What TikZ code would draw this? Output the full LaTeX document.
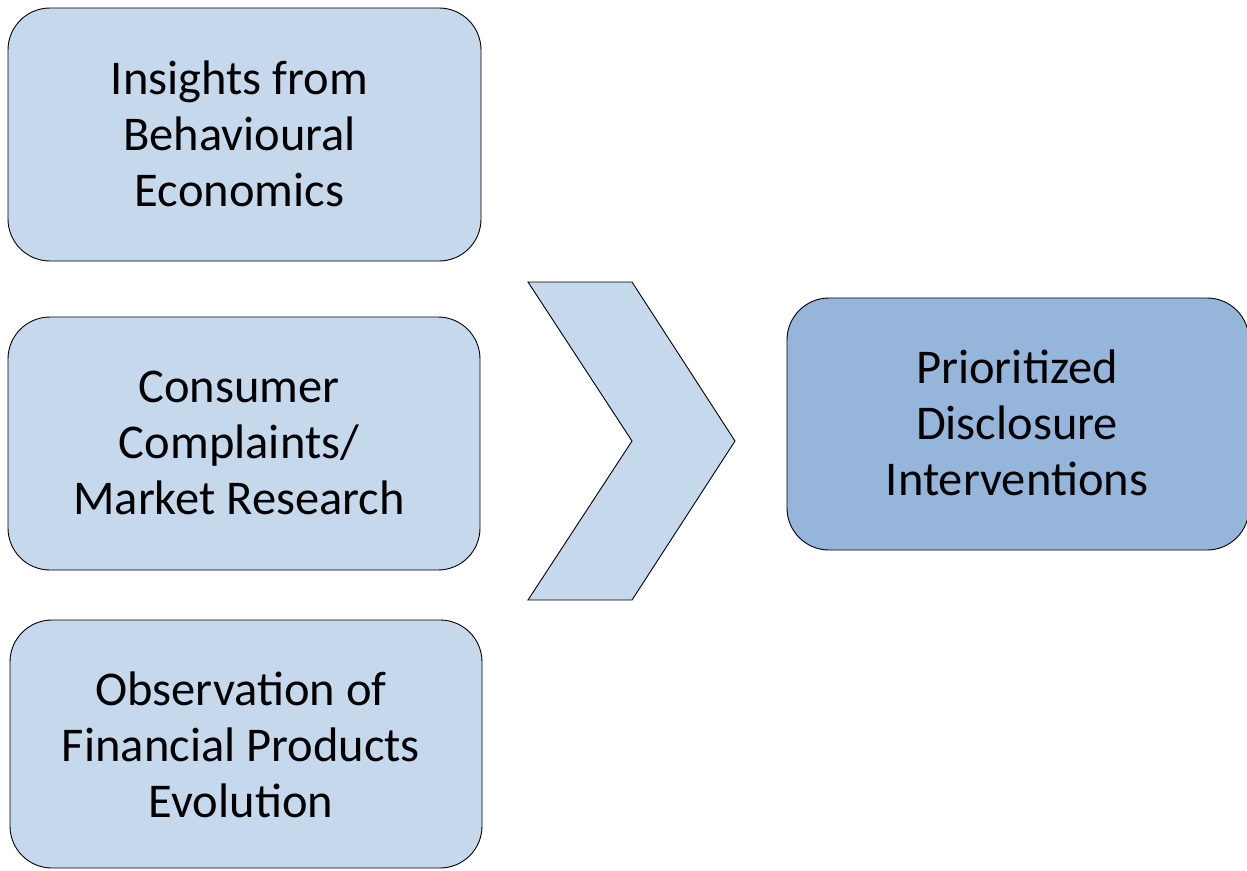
\documentclass[tikz,border=0pt]{standalone}
\usepackage{fontspec}
\setmainfont{Carlito}
\definecolor{lightblue}{HTML}{C5D8EC}
\definecolor{midblue}{HTML}{95B5DB}
\begin{document}
\begin{tikzpicture}[x=1pt,y=-1pt,
  box/.style={draw=black, line width=0.9pt, fill=lightblue, rounded corners=42pt, inner sep=0pt},
  outbox/.style={box, fill=midblue},
  label text/.style={align=center, inner sep=0pt, font=\fontsize{48.5}{56}\selectfont}]
\useasboundingbox (0,0) rectangle (1247,870);
\node[box, minimum width=473pt, minimum height=253pt] (b1) at (244.5,134.5) {};
\node[label text] (t1) at ([xshift=-5pt,yshift=1pt]b1.center) {Insights from\\Behavioural\\Economics};
\node[box, minimum width=472pt, minimum height=253pt] (b2) at (244,443.5) {};
\node[label text] (t2) at ([xshift=-5pt,yshift=1pt]b2.center) {Consumer\\Complaints/\\Market Research};
\node[box, minimum width=472pt, minimum height=248pt] (b3) at (246,744) {};
\node[label text] (t3) at ([xshift=-5pt,yshift=-1pt]b3.center) {Observation of\\Financial Products\\Evolution};
\node[outbox, minimum width=462pt, minimum height=252pt] (out) at (1018,424) {};
\node[label text] (t4) at ([xshift=-1pt,yshift=1pt]out.center) {Prioritized\\Disclosure\\Interventions};
\coordinate (c1) at (528,282);
\coordinate (c2) at (632,282);
\coordinate (c3) at (735,441);
\coordinate (c4) at (632,600);
\coordinate (c5) at (528,600);
\coordinate (c6) at (632,441);
\draw[line width=0.9pt, fill=lightblue, line join=miter] (c1) -- (c2) -- (c3) -- (c4) -- (c5) -- (c6) -- cycle;
\end{tikzpicture}
\end{document}
